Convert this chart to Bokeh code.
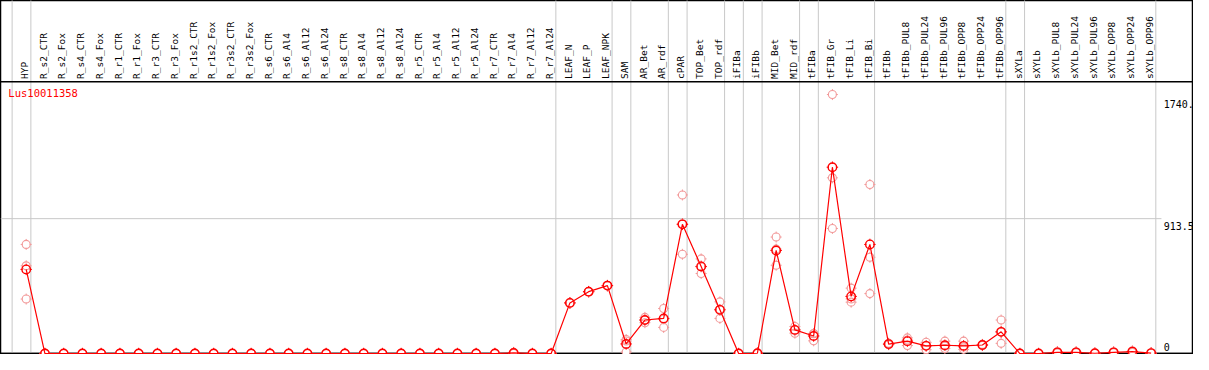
import math
from bokeh.plotting import figure
from bokeh.models import Range1d, ColumnDataSource
from bokeh.core.properties import value
from bokeh.embed import file_html
from bokeh.resources import INLINE

# ---------------- data ----------------
gene = "Lus10011358"

groups = [
    ["HYP"],
    ["R_s2_CTR", "R_s2_Fox", "R_s4_CTR", "R_s4_Fox", "R_r1_CTR", "R_r1_Fox",
     "R_r3_CTR", "R_r3_Fox", "R_r1s2_CTR", "R_r1s2_Fox", "R_r3s2_CTR", "R_r3s2_Fox",
     "R_s6_CTR", "R_s6_Al4", "R_s6_Al12", "R_s6_Al24", "R_s8_CTR", "R_s8_Al4",
     "R_s8_Al12", "R_s8_Al24", "R_r5_CTR", "R_r5_Al4", "R_r5_Al12", "R_r5_Al24",
     "R_r7_CTR", "R_r7_Al4", "R_r7_Al12", "R_r7_Al24"],
    ["LEAF_N", "LEAF_P", "LEAF_NPK"],
    ["SAM"],
    ["AR_Bet", "AR_rdf"],
    ["cPAR"],
    ["TOP_Bet", "TOP_rdf"],
    ["iFIBa"],
    ["iFIBb"],
    ["MID_Bet", "MID_rdf"],
    ["tFIBa"],
    ["tFIB_Gr", "tFIB_Li", "tFIB_Bi"],
    ["tFIBb", "tFIBb_PUL8", "tFIBb_PUL24", "tFIBb_PUL96", "tFIBb_OPP8", "tFIBb_OPP24", "tFIBb_OPP96"],
    ["sXYLa"],
    ["sXYLb", "sXYLb_PUL8", "sXYLb_PUL24", "sXYLb_PUL96", "sXYLb_OPP8", "sXYLb_OPP24", "sXYLb_OPP96"],
]

mean_vals = [570,
             0, 0, 0, 0, 0, 0, 0, 0, 0, 0, 0, 0, 0, 0, 0, 0, 0, 0, 0, 0, 0, 0, 0, 0, 0, 4, 0, 0,
             343, 419, 460,
             65,
             227, 238,
             875,
             590, 296,
             0,
             2,
             698, 160,
             119,
             1262, 387, 739,
             64, 84, 52, 56, 52, 58, 147,
             0,
             0, 8, 8, 2, 8, 13, 3]

rep1 = [739,
        0, 0, 0, 0, 0, 0, 0, 0, 0, 0, 0, 0, 0, 0, 0, 0, 0, 0, 0, 0, 0, 0, 0, 0, 0, 8, 0, 0,
        343, 419, 460,
        95,
        245, 305,
        1074,
        641, 350,
        0,
        3,
        789, 183,
        134,
        1754, 443, 1145,
        70, 106, 76, 84, 84, 62, 227,
        0,
        0, 12, 10, 3, 10, 18, 4]

rep2 = [594,
        0, 0, 0, 0, 0, 0, 0, 0, 0, 0, 0, 0, 0, 0, 0, 0, 0, 0, 0, 0, 0, 0, 0, 0, 0, 3, 0, 0,
        343, 419, 460,
        85,
        227, 177,
        672,
        542, 238,
        0,
        2,
        598, 138,
        86,
        1190, 348, 652,
        60, 54, 26, 34, 28, 58, 69,
        0,
        0, 8, 8, 2, 8, 13, 3]

rep3 = [369,
        0, 0, 0, 0, 0, 0, 0, 0, 0, 0, 0, 0, 0, 0, 0, 0, 0, 0, 0, 0, 0, 0, 0, 0, 0, 0, 0, 0,
        343, 419, 460,
        10,
        209, 232,
        879,
        587, 300,
        0,
        1,
        707, 160,
        136,
        847, 370, 406,
        62, 92, 54, 50, 44, 54, 145,
        0,
        0, 4, 6, 1, 6, 8, 2]

tick_vals = [0, 913.5, 1740]
tick_labels = ["0", "913.5", "1740."]

# ---------------- layout ----------------
cats = [c for g in groups for c in g]
xs = list(range(len(cats)))

W, H = 1193, 354
X_LO, X_HI = -1.37, 62.26
Y_LO, Y_HI = -6.5, 2391.0
PLOT_TOP = 1840.0
MONO = value("DejaVu Sans Mono")
RED = "#ff0000"
PINK = "#f29a9a"
GRID = "#c8c8c8"

p = figure(width=W, height=H, x_range=Range1d(X_LO, X_HI), y_range=Range1d(Y_LO, Y_HI),
           output_backend="svg", toolbar_location=None, min_border=0,
           x_axis_location=None, y_axis_location=None)
p.grid.visible = False
p.outline_line_color = "black"
p.outline_line_width = 1.5
p.background_fill_color = "white"
p.border_fill_color = "white"

# vertical group separators
bounds = [-1]
pos = -1
for g in groups:
    pos += len(g)
    bounds.append(pos)
bx = [b + 0.25 for b in bounds]
p.segment(x0=bx, y0=[Y_LO - 50] * len(bx), x1=bx, y1=[Y_HI + 50] * len(bx),
          line_color=GRID, line_width=1)

# horizontal mid grid line
p.segment(x0=[X_LO], y0=[tick_vals[1]], x1=[bx[-1] + 0.3], y1=[tick_vals[1]],
          line_color=GRID, line_width=1)

# header separator
p.segment(x0=[X_LO], y0=[PLOT_TOP], x1=[X_HI], y1=[PLOT_TOP], line_color="black", line_width=1.5)

# bottom line
p.segment(x0=[X_LO], y0=[0], x1=[X_HI], y1=[0], line_color="black", line_width=1.5)

# header labels
lab_src = ColumnDataSource(dict(x=[x - 0.1 for x in xs], y=[1860] * len(xs), t=cats))
p.text(x="x", y="y", text="t", source=lab_src, angle=math.pi / 2,
       text_align="left", text_baseline="middle", text_font=MONO,
       text_font_size="9.5px", text_color="black")

# gene title
p.text(x=[-0.95], y=[1763], text=[gene], text_align="left", text_baseline="middle",
       text_font=MONO, text_font_size="10.5px", text_color=RED)

# y tick labels on right
lx = bx[-1] + 0.42
p.text(x=[lx, lx], y=[tick_vals[1] - 20, tick_vals[2] - 20], text=tick_labels[1:],
       text_align="left", text_baseline="top", text_font=MONO, text_font_size="10px",
       text_color="black")
p.text(x=[lx], y=[tick_vals[0] + 18], text=tick_labels[:1],
       text_align="left", text_baseline="bottom", text_font=MONO, text_font_size="10px",
       text_color="black")

# replicates
rx = xs * 3
ry = rep1 + rep2 + rep3
p.scatter(rx, ry, marker="cross", size=11, line_color=PINK, line_width=1)
p.scatter(rx, ry, marker="circle", size=7, fill_color="white", line_color=None)
p.scatter(xs, mean_vals, marker="cross", size=11.5, line_color=RED, line_width=1)
p.scatter(xs, mean_vals, marker="circle", size=7, fill_color="white", line_color=None)
p.scatter(rx, ry, marker="circle", size=8, fill_color=None, line_color=PINK, line_width=1.1)

# mean series
p.line(xs, mean_vals, line_color=RED, line_width=1.2)
p.scatter(xs, mean_vals, marker="circle", size=8.5, fill_color=None, line_color=RED, line_width=1.4)

open("out.html", "w").write(file_html(p, INLINE))
